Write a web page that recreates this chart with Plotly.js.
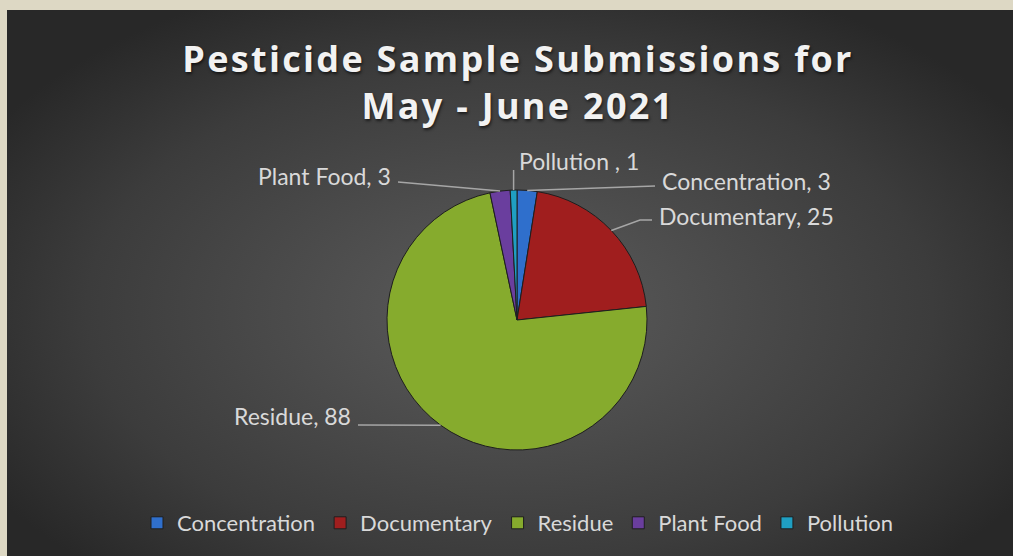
<!DOCTYPE html>
<html>
<head>
<meta charset="utf-8">
<script src="https://cdn.plot.ly/plotly-3.0.1.min.js"></script>
<style>
  html, body { margin: 0; padding: 0; background: #ddd8c4; }
  #bg { position: absolute; left: 7px; top: 10px; width: 1006px; height: 546px;
        background: radial-gradient(ellipse 60% 65% at 50% 55%, #5c5c5c 0%, #3c3c3c 70%, #282828 100%); }
  #chart { position: absolute; left: 0; top: 0; width: 1013px; height: 556px; }
  #chart .gtitle { letter-spacing: 2.3px; text-shadow: 1px 2px 3px rgba(0,0,0,0.6); }
</style>
</head>
<body>
<div id="bg"></div>
<div id="chart"></div>
<script>
// ---- data ----
const categories = ["Concentration", "Documentary", "Residue", "Plant Food", "Pollution"];
const values = [3, 25, 88, 3, 1];
const labelTexts = ["Concentration, 3", "Documentary, 25", "Residue, 88", "Plant Food, 3", "Pollution , 1"];
const colors = ["#2f6fcc", "#a01e1e", "#86ab2d", "#6a3e9e", "#1f9fc2"];

// ---- style: label placement (pixels) ----
const W = 1013, H = 556;
const cx = 517, cy = 320, R = 130;
const labelStyle = [
  {tx: 660, ty: 181, anchor: "left",  via: [[655, 186]]},
  {tx: 657, ty: 216, anchor: "left",  via: [[640, 220], [652, 220]]},
  {tx: 353, ty: 416, anchor: "right", via: [[358, 425]]},
  {tx: 393, ty: 176, anchor: "right", via: [[398, 182]]},
  {tx: 517, ty: 161, anchor: "left",  via: [[null, 170]]}
];

const px = x => x / W;
const py = y => 1 - y / H;

const total = values.reduce((a, b) => a + b, 0);
let cum = 0;
const annotations = [], shapes = [];
values.forEach((v, i) => {
  const mid = (cum + v / 2) / total * 2 * Math.PI;
  cum += v;
  const ax = cx + R * Math.sin(mid), ay = cy - R * Math.cos(mid);
  const st = labelStyle[i];
  let path = "M" + px(ax) + "," + py(ay);
  st.via.forEach(p => {
    const x = p[0] === null ? ax : p[0];
    path += " L" + px(x) + "," + py(p[1]);
  });
  shapes.push({type: "path", xref: "paper", yref: "paper", path: path,
               line: {color: "#a6a6a6", width: 1.5}});
  annotations.push({xref: "paper", yref: "paper", x: px(st.tx), y: py(st.ty),
    xanchor: st.anchor, yanchor: "middle", showarrow: false, text: labelTexts[i],
    font: {family: "Lato, 'Open Sans', sans-serif", size: 23, color: "#d9d9d9"}});
});

const trace = {
  type: "pie",
  labels: categories,
  values: values,
  sort: false,
  direction: "clockwise",
  rotation: 0,
  textinfo: "none",
  hoverinfo: "label+value",
  marker: {colors: colors, line: {color: "#1e1e1e", width: 1}},
  domain: {x: [px(cx - R), px(cx + R)], y: [py(cy + R), py(cy - R)]}
};

const layout = {
  width: W, height: H,
  margin: {l: 0, r: 0, t: 0, b: 0},
  paper_bgcolor: "rgba(0,0,0,0)",
  plot_bgcolor: "rgba(0,0,0,0)",
  title: {text: "Pesticide Sample Submissions for<br>May - June 2021",
          x: px(518), xanchor: "center", y: py(72), yanchor: "middle",
          font: {family: "'Open Sans', sans-serif", size: 36, color: "#f2f2f2", weight: "bold"}},
  showlegend: true,
  legend: {orientation: "h", x: px(518), xanchor: "center", y: py(523), yanchor: "middle",
           font: {family: "Lato, 'Open Sans', sans-serif", size: 22, color: "#d9d9d9"},
           itemclick: false},
  annotations: annotations,
  shapes: shapes
};

Plotly.newPlot("chart", [trace], layout, {displayModeBar: false, staticPlot: true});
</script>
</body>
</html>
